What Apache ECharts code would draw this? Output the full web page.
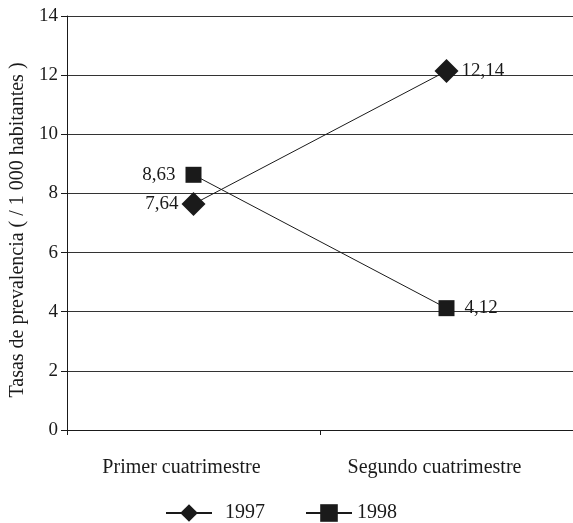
<!DOCTYPE html>
<html><head><meta charset="utf-8">
<script src="https://cdn.jsdelivr.net/npm/echarts@6/dist/echarts.min.js"></script>
<style>html,body{margin:0;padding:0;background:#fff}#c{width:573px;height:523px}</style>
</head><body><div id="c"></div>
<script>
const categories = ['Primer cuatrimestre', 'Segundo cuatrimestre'];
const series1997 = [7.64, 12.14];
const series1998 = [8.63, 4.12];
const yTicks = [0, 2, 4, 6, 8, 10, 12, 14];
const yName = 'Tasas de prevalencia ( / 1 000 habitantes )';

const font = 'Liberation Serif';
const ink = '#1a1a1a';
const fmt = p => String(p.value).replace('.', ',');

const chart = echarts.init(document.getElementById('c'));
chart.setOption({
  animation: false,
  grid: {left: 67, right: 0, top: 16, bottom: 93, containLabel: false, outerBoundsMode: 'none'},
  xAxis: {
    type: 'category', data: categories, boundaryGap: true,
    axisLine: {lineStyle: {color: ink, width: 1}},
    axisTick: {show: true, length: 5, lineStyle: {color: ink}},
    axisLabel: {color: ink, fontFamily: font, fontSize: 20, margin: 28, padding: [0, 24, 0, 0]}
  },
  yAxis: {
    type: 'value', min: yTicks[0], max: yTicks[yTicks.length - 1], interval: 2,
    name: yName, nameLocation: 'middle', nameGap: 38, nameRotate: 90,
    nameTextStyle: {color: ink, fontFamily: font, fontSize: 20, padding: [0, 14, 0, 0]},
    axisLine: {show: true, lineStyle: {color: ink}},
    axisTick: {show: true, length: 6, lineStyle: {color: ink}},
    axisLabel: {color: ink, fontFamily: font, fontSize: 19, margin: 9},
    splitLine: {lineStyle: {color: '#333', width: 1}}
  },
  legend: {
    bottom: -5, left: 160, itemGap: 40, itemWidth: 46, itemHeight: 22,
    textStyle: {color: ink, fontFamily: font, fontSize: 20},
    data: [{name: '1997', textStyle: {padding: [0, 0, 0, 8]}}, {name: '1998'}]
  },
  series: [
    {
      name: '1997', type: 'line',
      data: series1997.map((v, i) => ({value: v, label: {position: i === 0 ? 'left' : 'right'}})),
      symbol: 'diamond', symbolSize: 24,
      lineStyle: {color: ink, width: 1}, itemStyle: {color: ink},
      label: {show: true, formatter: fmt, fontFamily: font, fontSize: 19, color: ink, distance: 3}
    },
    {
      name: '1998', type: 'line',
      data: series1998.map((v, i) => ({value: v, label: {position: i === 0 ? 'left' : 'right'}})),
      symbol: 'rect', symbolSize: 16,
      lineStyle: {color: ink, width: 1}, itemStyle: {color: ink},
      label: {show: true, formatter: fmt, fontFamily: font, fontSize: 19, color: ink, distance: 10}
    }
  ]
});
</script></body></html>
